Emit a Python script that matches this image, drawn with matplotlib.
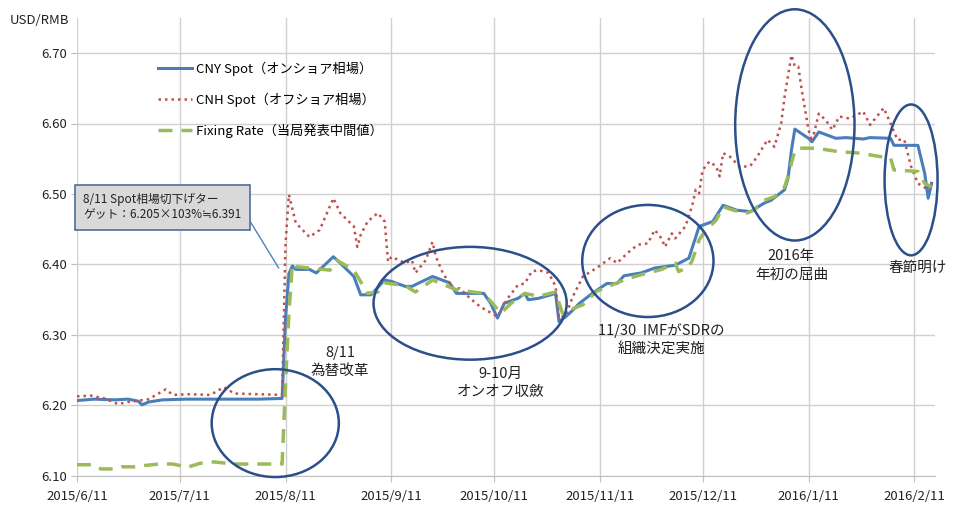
import datetime as dt
import matplotlib
matplotlib.use('Agg')
import matplotlib.pyplot as plt
import matplotlib.dates as mdates
from matplotlib.patches import Ellipse

plt.rcParams['font.family'] = ['Noto Sans CJK JP', 'DejaVu Sans']

# CNY spot (onshore)
cny_dates = ['2015-06-11', '2015-06-16', '2015-06-22', '2015-06-26', '2015-06-29', '2015-06-30',
             '2015-07-02', '2015-07-06', '2015-07-13', '2015-07-20', '2015-07-27', '2015-08-03',
             '2015-08-10', '2015-08-11', '2015-08-12', '2015-08-13', '2015-08-14', '2015-08-18',
             '2015-08-20', '2015-08-25', '2015-08-27', '2015-08-31', '2015-09-02', '2015-09-05',
             '2015-09-09', '2015-09-11', '2015-09-15', '2015-09-17', '2015-09-23', '2015-09-28',
             '2015-09-30', '2015-10-08', '2015-10-10', '2015-10-12', '2015-10-14', '2015-10-18',
             '2015-10-20', '2015-10-21', '2015-10-24', '2015-10-29', '2015-10-30', '2015-11-01',
             '2015-11-03', '2015-11-05', '2015-11-09', '2015-11-13', '2015-11-16', '2015-11-18',
             '2015-11-23', '2015-11-27', '2015-12-03', '2015-12-07', '2015-12-10', '2015-12-14',
             '2015-12-17', '2015-12-21', '2015-12-25', '2015-12-29', '2015-12-31', '2016-01-04',
             '2016-01-05', '2016-01-06', '2016-01-07', '2016-01-11', '2016-01-12', '2016-01-14',
             '2016-01-19', '2016-01-22', '2016-01-27', '2016-01-29', '2016-02-04', '2016-02-05',
             '2016-02-12', '2016-02-14', '2016-02-15', '2016-02-16']
cny_vals = [6.207, 6.209, 6.208, 6.209, 6.206, 6.201,
            6.205, 6.208, 6.209, 6.209, 6.209, 6.209,
            6.210, 6.323, 6.387, 6.398, 6.393, 6.393,
            6.388, 6.411, 6.402, 6.383, 6.357, 6.357,
            6.378, 6.376, 6.369, 6.369, 6.383, 6.374,
            6.359, 6.359, 6.345, 6.324, 6.345, 6.352,
            6.359, 6.350, 6.352, 6.359, 6.319, 6.326,
            6.335, 6.345, 6.360, 6.373, 6.373, 6.384,
            6.388, 6.395, 6.399, 6.409, 6.454, 6.461,
            6.484, 6.477, 6.475, 6.487, 6.491, 6.506,
            6.522, 6.562, 6.592, 6.579, 6.574, 6.588,
            6.579, 6.580, 6.578, 6.580, 6.579, 6.569,
            6.569, 6.529, 6.494, 6.515]

# CNH spot (offshore)
cnh_dates = ['2015-06-11', '2015-06-15', '2015-06-19', '2015-06-23', '2015-06-26', '2015-07-02',
             '2015-07-07', '2015-07-09', '2015-07-14', '2015-07-20', '2015-07-24', '2015-07-27',
             '2015-08-03', '2015-08-10', '2015-08-11', '2015-08-12', '2015-08-14', '2015-08-18',
             '2015-08-21', '2015-08-25', '2015-08-27', '2015-08-31', '2015-09-01', '2015-09-02',
             '2015-09-04', '2015-09-07', '2015-09-09', '2015-09-10', '2015-09-11', '2015-09-15',
             '2015-09-17', '2015-09-18', '2015-09-21', '2015-09-23', '2015-09-24', '2015-09-26',
             '2015-09-29', '2015-10-01', '2015-10-04', '2015-10-07', '2015-10-12', '2015-10-15',
             '2015-10-18', '2015-10-20', '2015-10-22', '2015-10-24', '2015-10-27', '2015-10-29',
             '2015-10-30', '2015-11-01', '2015-11-03', '2015-11-06', '2015-11-10', '2015-11-14',
             '2015-11-16', '2015-11-19', '2015-11-22', '2015-11-25', '2015-11-27', '2015-11-29',
             '2015-11-30', '2015-12-02', '2015-12-03', '2015-12-06', '2015-12-08', '2015-12-09',
             '2015-12-10', '2015-12-11', '2015-12-13', '2015-12-15', '2015-12-16', '2015-12-17',
             '2015-12-19', '2015-12-22', '2015-12-25', '2015-12-27', '2015-12-30', '2016-01-01',
             '2016-01-03', '2016-01-04', '2016-01-06', '2016-01-07', '2016-01-08', '2016-01-09',
             '2016-01-11', '2016-01-12', '2016-01-14', '2016-01-16', '2016-01-18', '2016-01-20',
             '2016-01-23', '2016-01-27', '2016-01-29', '2016-02-02', '2016-02-04', '2016-02-06',
             '2016-02-08', '2016-02-10', '2016-02-12', '2016-02-15', '2016-02-16']
cnh_vals = [6.213, 6.214, 6.210, 6.202, 6.205, 6.209,
            6.223, 6.215, 6.216, 6.215, 6.226, 6.217,
            6.216, 6.215, 6.430, 6.499, 6.459, 6.439,
            6.449, 6.494, 6.473, 6.454, 6.425, 6.442,
            6.461, 6.473, 6.461, 6.404, 6.411, 6.402,
            6.406, 6.388, 6.406, 6.432, 6.411, 6.388,
            6.366, 6.366, 6.352, 6.340, 6.326, 6.352,
            6.371, 6.373, 6.390, 6.392, 6.388, 6.369,
            6.324, 6.328, 6.354, 6.383, 6.395, 6.409,
            6.402, 6.416, 6.428, 6.430, 6.449, 6.437,
            6.425, 6.444, 6.437, 6.454, 6.484, 6.506,
            6.501, 6.534, 6.546, 6.539, 6.525, 6.558,
            6.553, 6.538, 6.540, 6.553, 6.577, 6.567,
            6.600, 6.638, 6.697, 6.681, 6.681, 6.648,
            6.591, 6.574, 6.614, 6.605, 6.591, 6.610,
            6.607, 6.617, 6.598, 6.622, 6.600, 6.577,
            6.577, 6.539, 6.515, 6.506, 6.517]

# Fixing rate (PBOC central parity)
fix_dates = ['2015-06-11', '2015-06-16', '2015-06-18', '2015-06-22', '2015-06-24', '2015-06-28',
             '2015-07-01', '2015-07-05', '2015-07-09', '2015-07-11', '2015-07-13', '2015-07-17',
             '2015-07-21', '2015-07-27', '2015-08-03', '2015-08-10', '2015-08-11', '2015-08-12',
             '2015-08-13', '2015-08-14', '2015-08-18', '2015-08-24', '2015-08-26', '2015-08-31',
             '2015-09-04', '2015-09-07', '2015-09-09', '2015-09-15', '2015-09-18', '2015-09-23',
             '2015-09-27', '2015-09-30', '2015-10-08', '2015-10-13', '2015-10-16', '2015-10-20',
             '2015-10-24', '2015-10-29', '2015-10-31', '2015-11-02', '2015-11-06', '2015-11-10',
             '2015-11-19', '2015-11-25', '2015-11-29', '2015-12-03', '2015-12-04', '2015-12-07',
             '2015-12-08', '2015-12-10', '2015-12-12', '2015-12-15', '2015-12-17', '2015-12-20',
             '2015-12-24', '2015-12-26', '2015-12-29', '2016-01-01', '2016-01-04', '2016-01-05',
             '2016-01-07', '2016-01-08', '2016-01-13', '2016-01-20', '2016-01-26', '2016-02-01',
             '2016-02-04', '2016-02-05', '2016-02-12', '2016-02-14', '2016-02-16']
fix_vals = [6.116, 6.116, 6.110, 6.110, 6.113, 6.113,
            6.115, 6.117, 6.117, 6.115, 6.112, 6.118,
            6.120, 6.117, 6.117, 6.117, 6.230, 6.331,
            6.401, 6.397, 6.395, 6.392, 6.406, 6.392,
            6.359, 6.361, 6.374, 6.370, 6.361, 6.378,
            6.370, 6.364, 6.359, 6.331, 6.345, 6.359,
            6.355, 6.361, 6.331, 6.335, 6.343, 6.362,
            6.380, 6.388, 6.393, 6.402, 6.390, 6.397,
            6.406, 6.435, 6.449, 6.463, 6.482, 6.477,
            6.473, 6.477, 6.491, 6.496, 6.510, 6.525,
            6.562, 6.565, 6.565, 6.560, 6.558, 6.553,
            6.551, 6.534, 6.532, 6.515, 6.510]

tick_dates = ['2015-06-11', '2015-07-11', '2015-08-11', '2015-09-11', '2015-10-11',
              '2015-11-11', '2015-12-11', '2016-01-11', '2016-02-11']
tick_labels = ['2015/6/11', '2015/7/11', '2015/8/11', '2015/9/11', '2015/10/11',
               '2015/11/11', '2015/12/11', '2016/1/11', '2016/2/11']
y_ticks = [6.10, 6.20, 6.30, 6.40, 6.50, 6.60, 6.70]

# highlight ellipses: center date, center value, width (days), height
ell_centers = ['2015-08-08', '2015-10-04', '2015-11-25', '2016-01-07', '2016-02-10']
ell_values = [6.175, 6.345, 6.405, 6.598, 6.520]
ell_widths = [37.2, 56.5, 38.4, 34.9, 15.5]
ell_heights = [0.153, 0.160, 0.159, 0.328, 0.214]

notes = ['8/11\n為替改革', '9-10月\nオンオフ収斂', '11/30  IMFがSDRの\n組織決定実施',
         '2016年\n年初の屈曲', '春節明け']
note_dates = ['2015-08-27', '2015-10-13', '2015-11-29', '2016-01-06', '2016-02-12']
note_values = [6.262, 6.232, 6.293, 6.399, 6.395]


def to_dt(s):
    return dt.datetime.strptime(s, '%Y-%m-%d')


fig = plt.figure(figsize=(9.56, 5.05), dpi=100)
ax = fig.add_axes([77 / 956, 1 - 476 / 505, 858 / 956, (476 - 17.75) / 505])

ax.plot([to_dt(d) for d in cny_dates], cny_vals, color='#4A7EBB', lw=2.2,
        label='CNY Spot（オンショア相場）', zorder=3)
ax.plot([to_dt(d) for d in cnh_dates], cnh_vals, color='#C0504D', lw=1.8,
        linestyle=(0, (1, 1.6)), label='CNH Spot（オフショア相場）', zorder=3)
ax.plot([to_dt(d) for d in fix_dates], fix_vals, color='#9BBB59', lw=2.5,
        linestyle=(0, (4, 2.6)), label='Fixing Rate（当局発表中間値）', zorder=4)

ax.set_xlim(to_dt('2015-06-11'), to_dt('2016-02-17'))
ax.set_ylim(6.10, 6.75)
ax.set_xticks([to_dt(d) for d in tick_dates])
ax.set_xticklabels(tick_labels, fontsize=9.5)
ax.set_yticks(y_ticks)
ax.set_yticklabels(['%.2f' % v for v in y_ticks], fontsize=9.5)
ax.grid(True, color='#D0D0D0', lw=1.0)
ax.set_axisbelow(True)
for s in ['top', 'right', 'left']:
    ax.spines[s].set_visible(False)
ax.spines['bottom'].set_color('#BFBFBF')
ax.tick_params(axis='both', colors='#BFBFBF', labelcolor='#222222', length=4)
ax.tick_params(axis='x', pad=6)

for c, v, w, h in zip(ell_centers, ell_values, ell_widths, ell_heights):
    e = Ellipse((mdates.date2num(to_dt(c)), v), w, h, fill=False,
                edgecolor='#2B4F8A', lw=1.8, zorder=5, clip_on=False)
    ax.add_patch(e)

for t, d, v in zip(notes, note_dates, note_values):
    ax.text(to_dt(d), v, t, ha='center', va='center', fontsize=10.5,
            color='#222222', linespacing=1.4, zorder=6)

ax.annotate('8/11 Spot相場切下げター\nゲット：6.205×103%≒6.391',
            xy=(to_dt('2015-08-09'), 6.395), xytext=(to_dt('2015-07-06'), 6.481),
            ha='center', va='center', fontsize=8.5, color='#222222', multialignment='left',
            bbox=dict(boxstyle='square,pad=0.7', fc='#D9D9D9', ec='#4F6D9A', lw=1.2),
            arrowprops=dict(arrowstyle='-', color='#4F81BD', lw=1.0, relpos=(1.0, 0.5),
                            shrinkA=0, shrinkB=0),
            zorder=6)

leg = ax.legend(loc='upper left', bbox_to_anchor=(0.08, 0.93), frameon=False,
                fontsize=9.5, handlelength=2.6, labelspacing=1.25, handletextpad=0.3)

fig.text(10 / 956, 1 - 20 / 505, 'USD/RMB', fontsize=9.5, va='center', ha='left', color='#222222')

plt.savefig('out.png', dpi=100)
